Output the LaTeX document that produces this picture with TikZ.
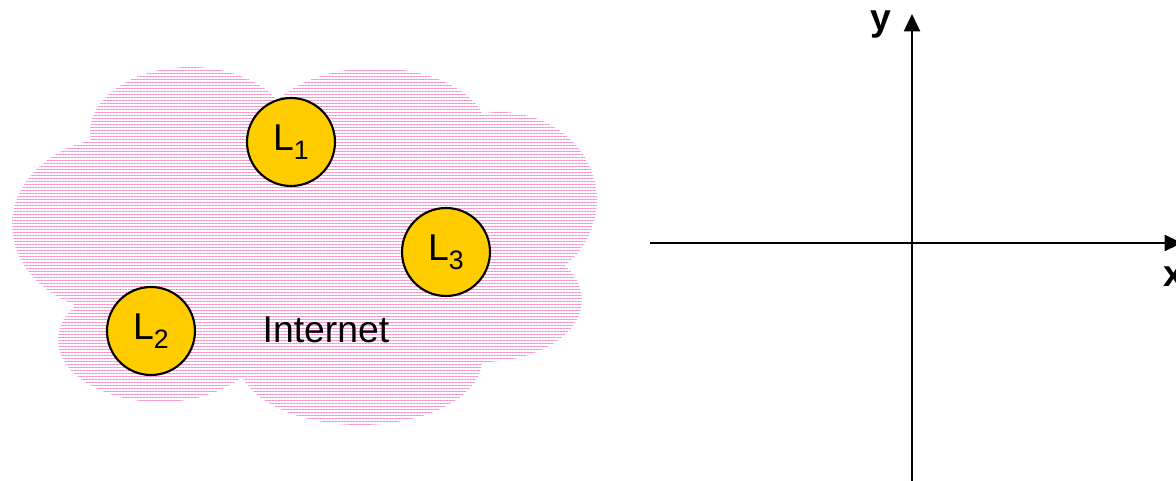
\documentclass[tikz,border=0pt]{standalone}
\usepackage{fontspec}
\setmainfont{Liberation Sans}
\usetikzlibrary{arrows.meta,patterns.meta}
\definecolor{cloudpink}{RGB}{255,140,205}
\definecolor{nodegold}{RGB}{255,204,0}
\newcommand{\lsub}[1]{L\raisebox{-7pt}{\fontsize{20}{20}\selectfont #1}}
\tikzset{
	lm/.style={circle,draw=black,line width=1.6pt,fill=nodegold,minimum size=66pt,inner sep=0pt,font=\fontsize{28}{32}\selectfont},
	axis/.style={line width=1.5pt,-{Triangle[length=13pt,width=12pt]}},
	cloud/.style={pattern={Lines[angle=0,distance=2.25pt,line width=0.7pt]},pattern color=cloudpink}
}
\begin{document}
\begin{tikzpicture}[x=0.75pt,y=-0.75pt]
		\path[use as bounding box,clip](0,0)rectangle(1176,481);
		% the cloud, a union of bumps
		\fill[cloud](190,132)ellipse(100 and 65) (375,132)ellipse(112 and 64)
			(500,200)ellipse(97 and 88) (482,300)ellipse(100 and 62)
			(360,360)ellipse(122 and 65) (160,340)ellipse(102 and 62)
			(120,225)ellipse(108 and 88) (310,245)ellipse(220 and 140);
		\node[lm](L1)at(291,142){\lsub{1}};
		\node[lm](L3)at(446,252){\lsub{3}};
		\node[lm](L2)at(151,331){\lsub{2}};
		\node[font=\fontsize{28}{32}\selectfont](inet)at(326,330){Internet};
		\coordinate(yfoot)at(912,490);
		\coordinate(ytip)at(912,14);
		\coordinate(xfoot)at(650,243);
		\coordinate(xtip)at(1182,243);
		\draw[axis](yfoot)--(ytip);
		\draw[axis](xfoot)--(xtip);
		\node[font=\fontsize{28}{32}\bfseries](ylab)at(881,25){y};
		\node[font=\fontsize{28}{32}\bfseries](xlab)at(1174,277){x};
		\end{tikzpicture}
\end{document}
